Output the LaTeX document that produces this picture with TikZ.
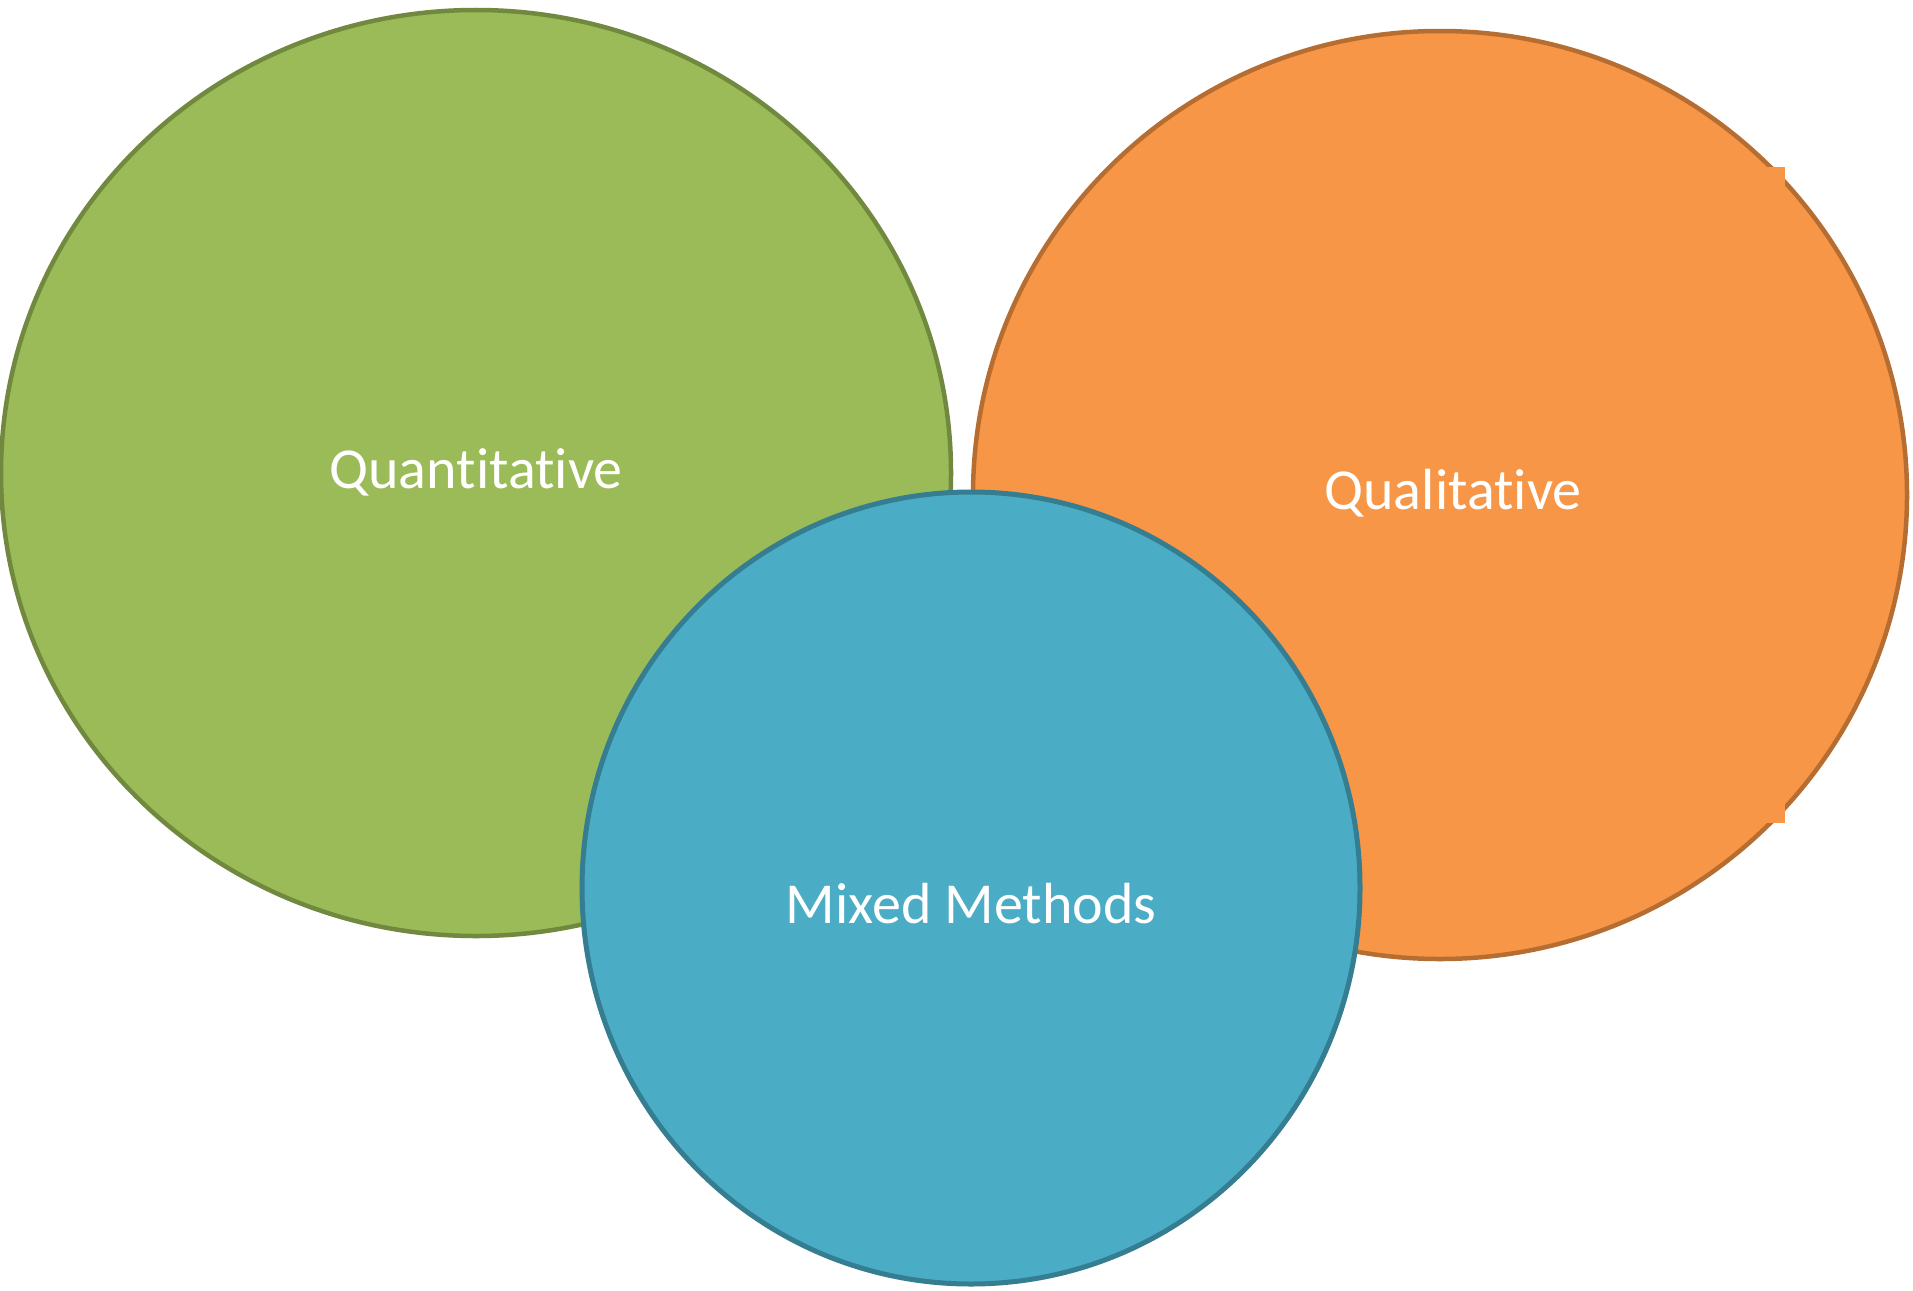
\documentclass[tikz,border=0pt]{standalone}
\usepackage{fontspec}
\setmainfont[Ligatures={NoCommon,NoRare,NoContextual}]{Carlito}
\definecolor{gfill}{HTML}{9BBB59}
\definecolor{gline}{HTML}{71893F}
\definecolor{ofill}{HTML}{F79646}
\definecolor{oline}{HTML}{B66D31}
\definecolor{bfill}{HTML}{4BACC6}
\definecolor{bline}{HTML}{357D91}
\begin{document}
\begin{tikzpicture}[x=1pt,y=-1pt,
  lbl/.style={text=white,font=\fontsize{58}{66}\selectfont}]
\useasboundingbox (0,0) rectangle (1913,1290);
\fill[white] (0,0) rectangle (1913,1290);
\filldraw[fill=gfill,draw=gline,line width=4.5pt] (476,473) ellipse [x radius=475,y radius=463];
\filldraw[fill=ofill,draw=oline,line width=4.5pt] (1440,495) ellipse [x radius=467,y radius=464];
\fill[ofill] (1700,167) rectangle (1785,823);
\filldraw[fill=bfill,draw=bline,line width=5pt] (971,888) ellipse [x radius=389,y radius=396];
\node[lbl] (quant) at (476,472) {Quantitative};
\node[lbl] (qual) at (1453,493) {Qualitative};
\node[lbl] (mixed) at (971,904) {Mixed Methods};
\end{tikzpicture}
\end{document}
